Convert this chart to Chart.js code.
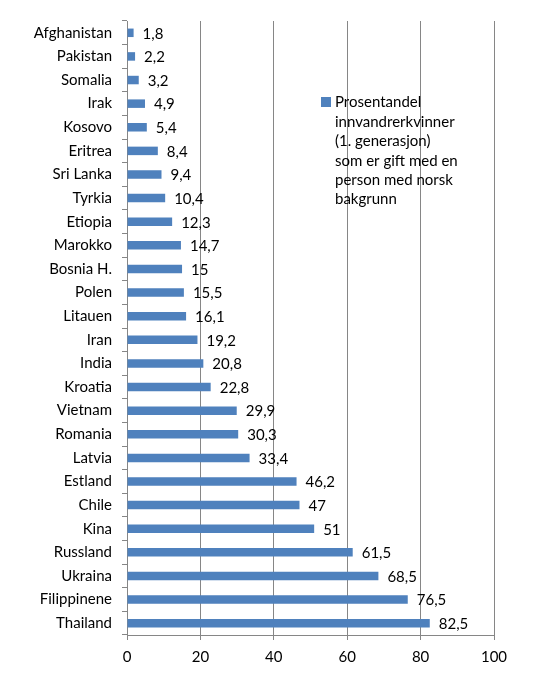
<!DOCTYPE html>
<html>
<head>
<meta charset="utf-8">
<style>
html,body{margin:0;padding:0;background:#fff;}
#wrap{position:relative;width:560px;height:675px;}
</style>
<script src="https://cdn.jsdelivr.net/npm/chart.js@4/dist/chart.umd.min.js"></script>
</head>
<body>
<div id="wrap"><canvas id="c" width="560" height="675"></canvas></div>
<script>
const categories = ["Afghanistan","Pakistan","Somalia","Irak","Kosovo","Eritrea","Sri Lanka","Tyrkia","Etiopia","Marokko","Bosnia H.","Polen","Litauen","Iran","India","Kroatia","Vietnam","Romania","Latvia","Estland","Chile","Kina","Russland","Ukraina","Filippinene","Thailand"];
const values = [1.8,2.2,3.2,4.9,5.4,8.4,9.4,10.4,12.3,14.7,15,15.5,16.1,19.2,20.8,22.8,29.9,30.3,33.4,46.2,47,51,61.5,68.5,76.5,82.5];
const seriesLabel = ["Prosentandel","innvandrerkvinner","(1. generasjon)","som er gift med en","person med norsk","bakgrunn"];
const xTicks = [0,20,40,60,80,100];

const FONT = "Lato, 'Open Sans', sans-serif";
const barColor = "#4F81BD";
const gridColor = "#868686";

const fmt = v => String(v).replace('.', ',');

const valueLabels = {
  id: 'valueLabels',
  afterDatasetsDraw(chart) {
    const ctx = chart.ctx;
    const meta = chart.getDatasetMeta(0);
    ctx.save();
    ctx.font = "15px " + FONT;
    ctx.fillStyle = "#000";
    ctx.textAlign = "left";
    ctx.textBaseline = "middle";
    meta.data.forEach((bar, i) => {
      ctx.fillText(fmt(values[i]), bar.x + 9, bar.y + 1);
    });
    ctx.restore();
  }
};

const boxLegend = {
  id: 'boxLegend',
  afterDraw(chart) {
    const ctx = chart.ctx;
    const xs = chart.scales.x;
    const ys = chart.scales.y;
    const x0 = Math.round(xs.getPixelForValue(52.9));
    const yc = ys.getPixelForValue(2.91);
    ctx.save();
    ctx.fillStyle = barColor;
    ctx.fillRect(x0, Math.round(yc - 5), 10, 10);
    ctx.font = "15px " + FONT;
    ctx.fillStyle = "#000";
    ctx.textAlign = "left";
    ctx.textBaseline = "middle";
    seriesLabel.forEach((line, i) => {
      ctx.fillText(line, x0 + 14, yc + 1 + i * 19.4);
    });
    ctx.restore();
  }
};

new Chart(document.getElementById('c'), {
  type: 'bar',
  data: {
    labels: categories,
    datasets: [{
      label: seriesLabel.join(' '),
      data: values,
      backgroundColor: barColor,
      borderWidth: 0,
      barPercentage: 0.36,
      categoryPercentage: 1.0
    }]
  },
  options: {
    indexAxis: 'y',
    responsive: false,
    animation: false,
    devicePixelRatio: 1,
    layout: { padding: { top: 21, right: 66, bottom: 0, left: 0 } },
    plugins: { legend: { display: false }, tooltip: { enabled: false } },
    scales: {
      x: {
        min: 0, max: 100,
        afterBuildTicks(scale) { scale.ticks = xTicks.map(v => ({ value: v })); },
        afterFit(scale) { scale.height = 40; },
        grid: { color: gridColor, lineWidth: 1, tickLength: 5, drawTicks: true, tickColor: gridColor },
        border: { display: true, color: gridColor },
        ticks: { color: "#000", font: { family: FONT, size: 15 }, padding: 8, maxRotation: 0 }
      },
      y: {
        offset: true,
        afterFit(scale) { scale.width = 127; },
        grid: { offset: true, drawOnChartArea: false, tickLength: 5, color: gridColor },
        border: { display: true, color: gridColor },
        ticks: { color: "#000", font: { family: FONT, size: 15 }, padding: 10, autoSkip: false }
      }
    }
  },
  plugins: [valueLabels, boxLegend]
});
</script>
</body>
</html>
